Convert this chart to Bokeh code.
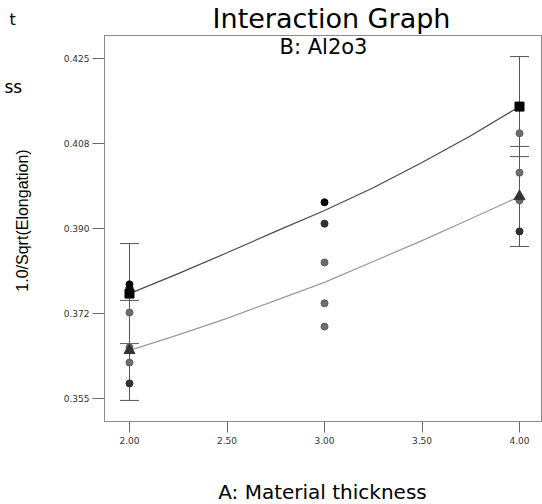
from bokeh.plotting import figure
from bokeh.layouts import row, column
from bokeh.models import Range1d, FixedTicker, Label, Whisker, ColumnDataSource, TeeHead
from bokeh.embed import file_html
from bokeh.resources import INLINE

# Factor A levels and tick labels
x_tick_values = [2.0, 2.5, 3.0, 3.5, 4.0]
x_tick_labels = ["2.00", "2.50", "3.00", "3.50", "4.00"]
y_tick_values = [0.355, 0.3725, 0.390, 0.4075, 0.425]
y_tick_labels = ["0.355", "0.372", "0.390", "0.408", "0.425"]

# Predicted response along A for the two levels of B
curve_x = [2.0, 2.25, 2.5, 2.75, 3.0, 3.25, 3.5, 3.75, 4.0]
curve_b1 = [0.3766, 0.3807, 0.3850, 0.3894, 0.3937, 0.3984, 0.4036, 0.4091, 0.4151]
curve_b2 = [0.3649, 0.3681, 0.3715, 0.3752, 0.3789, 0.3832, 0.3875, 0.3920, 0.3966]

# Least significant difference half-width
lsd_half = 0.0103

# Design points
pts_b1_x = [2.0, 2.0, 3.0, 4.0]
pts_b1_y = [0.3785, 0.3778, 0.3954, 0.4151]
pts_b2_x = [2.0, 2.0, 2.0, 3.0, 3.0, 3.0, 4.0, 4.0, 4.0]
pts_b2_y = [0.3727, 0.3655, 0.3624, 0.3830, 0.3746, 0.3698, 0.4096, 0.4015, 0.3958]
pts_rep_x = [2.0, 3.0, 4.0]
pts_rep_y = [0.3581, 0.3910, 0.3894]

W, H = 542, 504
SIDE = 32          # left strip: y title and clipped words
TOP = 34           # top strip: chart title
BOT = 55           # bottom strip: x title
MAIN_W = W - SIDE
MAIN_H = H - TOP - BOT
x_lo, x_hi = 1.8718, 4.1179
y_lo, y_hi = 0.35026, 0.42974


def strip(width, height):
    f = figure(width=width, height=height, output_backend="svg", toolbar_location=None,
               x_range=Range1d(0, width), y_range=Range1d(height, 0),
               min_border=0, outline_line_color=None)
    f.axis.visible = False
    f.grid.visible = False
    f.background_fill_color = "white"
    f.border_fill_color = "white"
    f.frame_align = False
    return f


def text(f, s, x, y, size, font="DejaVu Sans", angle=0.0, align="center"):
    f.add_layout(Label(x=x, y=y, text=s, text_font=font, text_font_size=size,
                       text_align=align, text_baseline="middle", angle=angle,
                       text_color="#000000"))


p = figure(width=MAIN_W, height=MAIN_H, output_backend="svg", toolbar_location=None,
           x_range=Range1d(x_lo, x_hi), y_range=Range1d(y_lo, y_hi),
           min_border_left=104 - SIDE, min_border_right=0,
           min_border_top=35 - TOP, min_border_bottom=H - BOT - 421)
p.frame_align = False
p.background_fill_color = "white"
p.border_fill_color = "white"
p.outline_line_color = "#8a8a8a"
p.xgrid.visible = False
p.ygrid.visible = False

for ax in (p.xaxis[0], p.yaxis[0]):
    ax.axis_line_color = "#8a8a8a"
    ax.major_tick_line_color = "#6a6a6a"
    ax.minor_tick_line_color = None
    ax.major_tick_in = 0
    ax.major_label_text_font = "DejaVu Sans"
    ax.major_label_text_font_size = "9px"
    ax.major_label_text_color = "#333333"

p.xaxis.ticker = FixedTicker(ticks=x_tick_values)
p.xaxis.major_label_overrides = dict(zip(x_tick_values, x_tick_labels))
p.xaxis.major_tick_out = 11
p.xaxis.major_label_standoff = 4
p.yaxis.ticker = FixedTicker(ticks=y_tick_values)
p.yaxis.major_label_overrides = dict(zip(y_tick_values, y_tick_labels))
p.yaxis.major_tick_out = 12
p.yaxis.major_label_standoff = 3

# LSD bars at both ends of each line
ends = [0, len(curve_x) - 1]
bar_x, bar_lo, bar_hi = [], [], []
for curve in (curve_b1, curve_b2):
    for i in ends:
        bar_x.append(curve_x[i])
        bar_lo.append(curve[i] - lsd_half)
        bar_hi.append(curve[i] + lsd_half)
bars = ColumnDataSource(dict(x=bar_x, lower=bar_lo, upper=bar_hi))
p.add_layout(Whisker(source=bars, base="x", lower="lower", upper="upper",
                     line_color="#555555", line_width=1,
                     upper_head=TeeHead(size=19, line_color="#555555", line_width=1),
                     lower_head=TeeHead(size=19, line_color="#555555", line_width=1)))

# Fitted curves
p.line(curve_x, curve_b1, line_color="#4a4a4a", line_width=1.2)
p.line(curve_x, curve_b2, line_color="#9a9a9a", line_width=1.2)

# Design points
p.scatter(pts_b2_x, pts_b2_y, marker="circle", size=7, fill_color="#6e6e6e", line_color="#5e5e5e")
p.scatter(pts_rep_x, pts_rep_y, marker="circle", size=7, fill_color="#333333", line_color="#2a2a2a")
p.scatter(pts_b1_x, pts_b1_y, marker="circle", size=7, fill_color="#000000", line_color="#000000")

# End markers of the two lines
p.scatter([curve_x[i] for i in ends], [curve_b1[i] for i in ends], marker="square",
          size=9, fill_color="#000000", line_color="#000000")
p.scatter([curve_x[i] for i in ends], [curve_b2[i] for i in ends], marker="triangle",
          size=11, fill_color="#333333", line_color="#333333")

# Subtitle naming factor B, inside the top of the frame
p.add_layout(Label(x=(x_lo + x_hi) / 2, y=y_hi, y_offset=-11,
                   text="B: Al2o3", text_font="DejaVu Sans",
                   text_font_size="21px", text_align="center", text_baseline="middle",
                   text_color="#000000"))

side = strip(SIDE, H)
text(side, "1.0/Sqrt(Elongation)", 22, 220, "16px", font="Liberation Sans", angle=1.5708)
text(side, "t", 9, 19, "16px", align="left")
text(side, "ss", 4, 86, "17px", align="left")

top = strip(MAIN_W, TOP)
text(top, "Interaction Graph", 331 - SIDE, 18, "27px")

bottom = strip(MAIN_W, BOT)
text(bottom, "A: Material thickness", 322 - SIDE, 491 - (H - BOT), "20px")

layout = row(side, column(top, p, bottom, spacing=0), spacing=0)
open("out.html", "w").write(file_html(layout, INLINE))
